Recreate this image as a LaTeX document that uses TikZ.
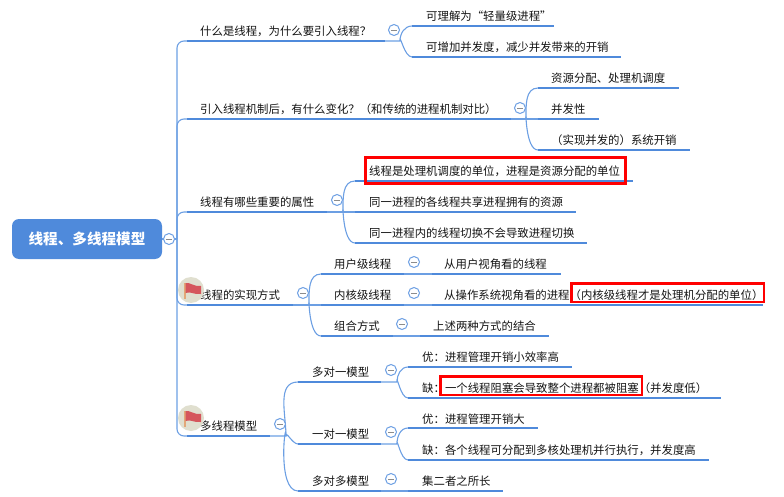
\documentclass[tikz,border=0pt]{standalone}
\usepackage{fontspec}
\setmainfont{Noto Sans CJK SC}
\definecolor{mapblue}{HTML}{4F8ADB}
\definecolor{linkblue}{HTML}{6C9FE3}
\definecolor{flagbg}{HTML}{E0DFCF}
\definecolor{flagred}{HTML}{D5565C}
\definecolor{flagpole}{HTML}{E2A878}
\tikzset{
  lbl/.style={anchor=base west,inner sep=0pt,yshift=-0.7pt,font=\fontsize{11.4}{13}\selectfont,text=black!92},
  rootbox/.style={rectangle,rounded corners=7pt,fill=mapblue,minimum width=150pt,minimum height=40pt,text=white,font=\fontsize{14.6}{17}\selectfont\bfseries},
  toggle/.style={circle,draw=linkblue,fill=white,line width=1pt,minimum size=11pt,inner sep=0pt,
    path picture={\draw[black!45,line width=0.9pt] ([xshift=-3pt]path picture bounding box.center) -- ([xshift=3pt]path picture bounding box.center);}},
  uline/.style={draw=mapblue,line width=2.8pt},
  branch/.style={draw=linkblue,line width=1.1pt},
  hilite/.style={draw=red,line width=2.4pt},
  flagdisc/.style={circle,fill=flagbg,minimum size=26pt,inner sep=0pt},
  flagmark/.pic={
    \fill[flagpole] (-7.5,-7) rectangle (-5.5,9);
    \fill[flagred] (-5.5,-7) .. controls (-1,-8) and (3,-3) .. (10,-4) -- (10,4) .. controls (3,5) and (0,1) .. (-5.5,3) -- cycle;
  }
}
\begin{document}
\begin{tikzpicture}[x=1pt,y=-1pt]
  \useasboundingbox (0,0) rectangle (784,497);

  \coordinate (spine) at (177,239);

  % Underline ends, level one
  \coordinate (q1s) at (187,41);   \coordinate (q1e) at (385,41);   \coordinate (q1x) at (400,41);
  \coordinate (q2s) at (187,119);  \coordinate (q2e) at (511,119);  \coordinate (q2x) at (526,119);
  \coordinate (q3s) at (187,212);  \coordinate (q3e) at (327,212);  \coordinate (q3x) at (343,212);
  \coordinate (q4s) at (187,305);  \coordinate (q4e) at (293,305);  \coordinate (q4x) at (309,305);
  \coordinate (q5s) at (187,436);  \coordinate (q5e) at (270,436);  \coordinate (q5x) at (286,436);

  % Underline ends, level two
  \coordinate (a1s) at (412,26);   \coordinate (a1e) at (554,26);
  \coordinate (a2s) at (412,57);   \coordinate (a2e) at (621,57);
  \coordinate (b1s) at (538,88);   \coordinate (b1e) at (679,88);
  \coordinate (b2s) at (538,119);  \coordinate (b2e) at (599,119);
  \coordinate (b3s) at (538,150);  \coordinate (b3e) at (690,150);
  \coordinate (c1s) at (355,181);  \coordinate (c1e) at (633,181);
  \coordinate (c2s) at (355,212);  \coordinate (c2e) at (576,212);
  \coordinate (c3s) at (355,243);  \coordinate (c3e) at (587,243);
  \coordinate (d1s) at (321,274);  \coordinate (d1e) at (404,274);
  \coordinate (d2s) at (321,305);  \coordinate (d2e) at (404,305);
  \coordinate (d3s) at (321,336);  \coordinate (d3e) at (393,336);
  \coordinate (e1s) at (298,382);  \coordinate (e1e) at (381,382);  \coordinate (e1x) at (397,382);
  \coordinate (e2s) at (298,444);  \coordinate (e2e) at (381,444);  \coordinate (e2x) at (397,444);
  \coordinate (e3s) at (298,491);  \coordinate (e3e) at (381,491);

  % Underline ends, level three
  \coordinate (f1s) at (432,274);  \coordinate (f1e) at (561,274);
  \coordinate (f2s) at (432,305);  \coordinate (f2e) at (763,305);
  \coordinate (f3s) at (420,336);  \coordinate (f3e) at (549,336);
  \coordinate (g1s) at (408,367);  \coordinate (g1e) at (572,367);
  \coordinate (g2s) at (408,398);  \coordinate (g2e) at (721,398);
  \coordinate (g3s) at (408,428);  \coordinate (g3e) at (538,428);
  \coordinate (g4s) at (408,460);  \coordinate (g4e) at (709,460);
  \coordinate (g5s) at (408,491);  \coordinate (g5e) at (503,491);

  % Root
  \node[rootbox] (root) at (87,239) {线程、多线程模型};

  % Thin connectors
  \draw[branch] (root.east) -- (spine);
  \draw[branch,rounded corners=7pt] (spine) |- (q1s);
  \draw[branch,rounded corners=7pt] (spine) |- (q2s);
  \draw[branch,rounded corners=7pt] (spine) |- (q3s);
  \draw[branch,rounded corners=7pt] (spine) |- (q4s);
  \draw[branch,rounded corners=7pt] (spine) |- (q5s);

  \draw[branch] (q1e) -- (q1x) to[out=90,in=180] (a1s);
  \draw[branch] (q1x) to[out=90,in=180] (a2s);
  \draw[branch] (q2e) -- (q2x) -- (b2s);
  \draw[branch] (q2x) to[out=90,in=180] (b1s);
  \draw[branch] (q2x) to[out=90,in=180] (b3s);
  \draw[branch] (q3e) -- (q3x) -- (c2s);
  \draw[branch] (q3x) to[out=90,in=180] (c1s);
  \draw[branch] (q3x) to[out=90,in=180] (c3s);
  \draw[branch] (q4e) -- (q4x) -- (d2s);
  \draw[branch] (q4x) to[out=90,in=180] (d1s);
  \draw[branch] (q4x) to[out=90,in=180] (d3s);
  \draw[branch] (q5e) -- (q5x) to[out=90,in=180] (e1s);
  \draw[branch] (q5x) to[out=90,in=180] (e2s);
  \draw[branch] (q5x) to[out=90,in=180] (e3s);
  \draw[branch] (d1e) -- (f1s);
  \draw[branch] (d2e) -- (f2s);
  \draw[branch] (d3e) -- (f3s);
  \draw[branch] (e1e) -- (e1x) to[out=90,in=180] (g1s);
  \draw[branch] (e1x) to[out=90,in=180] (g2s);
  \draw[branch] (e2e) -- (e2x) to[out=90,in=180] (g3s);
  \draw[branch] (e2x) to[out=90,in=180] (g4s);
  \draw[branch] (e3e) -- (g5s);

  % Thick underlines
  \draw[uline] (q1s) -- (q1e);  \draw[uline] (q2s) -- (q2e);  \draw[uline] (q3s) -- (q3e);
  \draw[uline] (q4s) -- (q4e);  \draw[uline] (q5s) -- (q5e);
  \draw[uline] (a1s) -- (a1e);  \draw[uline] (a2s) -- (a2e);
  \draw[uline] (b1s) -- (b1e);  \draw[uline] (b2s) -- (b2e);  \draw[uline] (b3s) -- (b3e);
  \draw[uline] (c1s) -- (c1e);  \draw[uline] (c2s) -- (c2e);  \draw[uline] (c3s) -- (c3e);
  \draw[uline] (d1s) -- (d1e);  \draw[uline] (d2s) -- (d2e);  \draw[uline] (d3s) -- (d3e);
  \draw[uline] (e1s) -- (e1e);  \draw[uline] (e2s) -- (e2e);  \draw[uline] (e3s) -- (e3e);
  \draw[uline] (f1s) -- (f1e);  \draw[uline] (f2s) -- (f2e);  \draw[uline] (f3s) -- (f3e);
  \draw[uline] (g1s) -- (g1e);  \draw[uline] (g2s) -- (g2e);  \draw[uline] (g3s) -- (g3e);
  \draw[uline] (g4s) -- (g4e);  \draw[uline] (g5s) -- (g5e);

  % Labels
  \node[lbl] (q1) at (200,35) {什么是线程，为什么要引入线程？};
  \node[lbl] (q2) at (200,113) {引入线程机制后，有什么变化？（和传统的进程机制对比）};
  \node[lbl] (q3) at (200,206) {线程有哪些重要的属性};
  \node[lbl] (q4) at (200,299) {线程的实现方式};
  \node[lbl] (q5) at (200,430) {多线程模型};
  \node[lbl] (a1) at (426,20) {可理解为“轻量级进程”};
  \node[lbl] (a2) at (426,51) {可增加并发度，减少并发带来的开销};
  \node[lbl] (b1) at (551,82) {资源分配、处理机调度};
  \node[lbl] (b2) at (551,113) {并发性};
  \node[lbl] (b3) at (551,144) {（实现并发的）系统开销};
  \node[lbl] (c1) at (369,175) {线程是处理机调度的单位，进程是资源分配的单位};
  \node[lbl] (c2) at (369,206) {同一进程的各线程共享进程拥有的资源};
  \node[lbl] (c3) at (369,237) {同一进程内的线程切换不会导致进程切换};
  \node[lbl] (d1) at (334,268) {用户级线程};
  \node[lbl] (d2) at (334,299) {内核级线程};
  \node[lbl] (d3) at (334,330) {组合方式};
  \node[lbl] (f1) at (444,268) {从用户视角看的线程};
  \node[lbl] (f2) at (444,299) {从操作系统视角看的进程（内核级线程才是处理机分配的单位）};
  \node[lbl] (f3) at (433,330) {上述两种方式的结合};
  \node[lbl] (e1) at (312,376) {多对一模型};
  \node[lbl] (e2) at (312,438) {一对一模型};
  \node[lbl] (e3) at (312,485) {多对多模型};
  \node[lbl] (g1) at (422,361) {优：进程管理开销小效率高};
  \node[lbl] (g2) at (422,392) {缺：一个线程阻塞会导致整个进程都被阻塞（并发度低）};
  \node[lbl] (g3) at (422,423) {优：进程管理开销大};
  \node[lbl] (g4) at (422,454) {缺：各个线程可分配到多核处理机并行执行，并发度高};
  \node[lbl] (g5) at (422,485) {集二者之所长};

  % Toggles
  \node[toggle] (rootT) at (169,239) {};
  \node[toggle] (q1T) at (394,30) {};
  \node[toggle] (q2T) at (520,108) {};
  \node[toggle] (q3T) at (337,200) {};
  \node[toggle] (q4T) at (303,293) {};
  \node[toggle] (q5T) at (280,424) {};
  \node[toggle] (d1T) at (414,262) {};
  \node[toggle] (d2T) at (414,293) {};
  \node[toggle] (d3T) at (402,324) {};
  \node[toggle] (e1T) at (391,370) {};
  \node[toggle] (e2T) at (391,432) {};
  \node[toggle] (e3T) at (391,479) {};

  % Red boxes
  \draw[hilite] (365.5,157.5) rectangle (625.5,183.5);
  \draw[hilite] (571.5,283.5) rectangle (764,302);
  \draw[hilite] (440.5,376.5) rectangle (642,395);

  % Flags
  \node[flagdisc] (flag4) at (191,290) {};
  \node[flagdisc] (flag5) at (191,418) {};
  \pic at (flag4) {flagmark};
  \pic at (flag5) {flagmark};
\end{tikzpicture}
\end{document}
